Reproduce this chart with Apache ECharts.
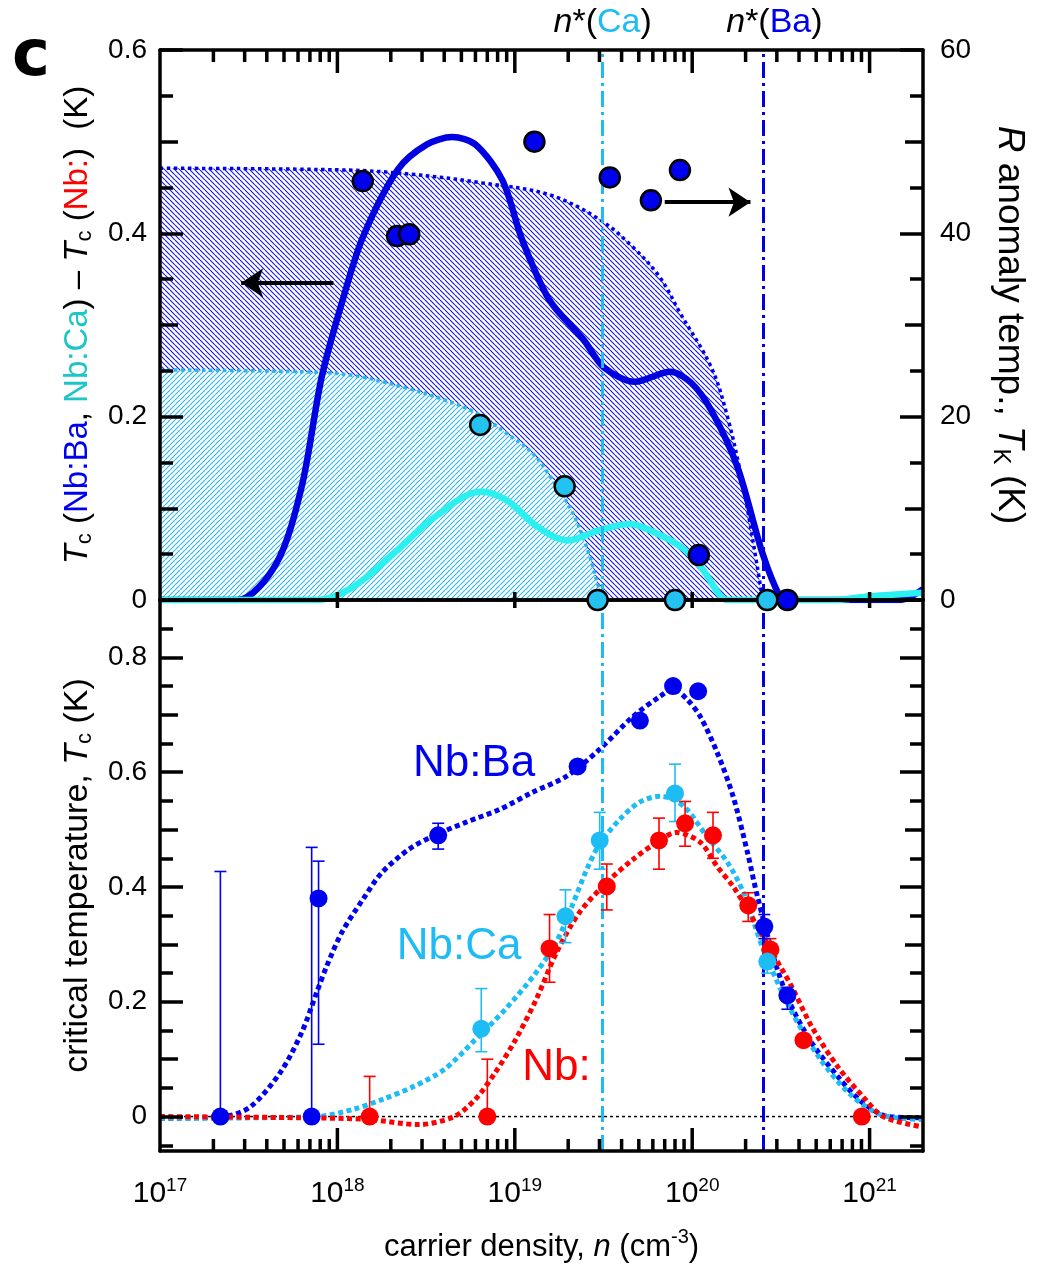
<!DOCTYPE html>
<html><head><meta charset="utf-8">
<script src="https://cdn.jsdelivr.net/npm/echarts@6/dist/echarts.min.js"></script>
<style>html,body{margin:0;padding:0;background:#fff;}#c{width:1044px;height:1264px;}</style>
</head><body><div id="c"></div>
<script>
// ---------------- data ----------------
const X_MIN = 1e17, X_MAX = 2e21;
const N_STAR_CA = 3.13e19, N_STAR_BA = 2.52e20;
const xMajorTicks = [1e18, 1e19, 1e20, 1e21];
const yBotLabelTicks = [0, 0.2, 0.4, 0.6, 0.8];
const yBotMidTicks = [0.1, 0.3, 0.5, 0.7];
const yBotMinorTicks = [-0.05, 0.05, 0.15, 0.25, 0.35, 0.45, 0.55, 0.65, 0.75, 0.85];

// top panel: R anomaly temperature T_K (K) (right axis)
const tkBa = [[1.39e18,45.7],[2.17e18,39.7],[2.54e18,39.9],[1.29e19,50.0],[3.43e19,46.1],[5.85e19,43.6],[8.53e19,46.9],[1.09e20,4.9],[3.44e20,0]];
const tkCa = [[6.38e18,19.1],[1.91e19,12.4],[2.93e19,0],[8.0e19,0],[2.65e20,0]];
// hatched envelopes (right-axis units)
const envBa = [[1e17,47.1],[1.16e18,46.9],[2.77e18,46.4],[6.56e18,45.5],[1.57e19,44.2],[3.01e19,41.5],[4.63e19,38.5],[6.58e19,35.2],[8.55e19,31.3],[1.28e20,25.4],[1.58e20,20.0],[1.92e20,12.8],[2.33e20,3.6],[2.49e20,0]];
const envCa = [[1e17,25.1],[6.28e17,24.9],[1.22e18,24.5],[2.37e18,23.2],[4.05e18,21.8],[6.06e18,20.4],[8.96e18,18.2],[1.26e19,16.0],[1.63e19,13.1],[2.12e19,9.5],[2.61e19,5.1],[2.97e19,1.4],[3.17e19,0]];
// Tc difference curves (left axis, K)
const dTcBa = [[1e17,0],[2.73e17,0],[4.53e17,0.040],[6.28e17,0.123],[8.15e17,0.243],[1.07e18,0.327],[1.4e18,0.397],[2.2e18,0.470],[3.2e18,0.497],[4.44e18,0.505],[6.0e18,0.497],[8.51e18,0.458],[1.10e19,0.393],[1.57e19,0.327],[2.44e19,0.284],[3.17e19,0.254],[4.75e19,0.238],[7.5e19,0.249],[9.86e19,0.237],[1.28e20,0.207],[1.80e20,0.145],[2.49e20,0.051],[3.14e20,0.003],[3.5e20,0],[1.5e21,0],[2e21,0.012]];
const dTcCa = [[1e17,0],[7.6e17,0],[1.22e18,0.014],[2.08e18,0.051],[3.56e18,0.091],[6.47e18,0.118],[8.96e18,0.109],[1.34e19,0.080],[1.99e19,0.065],[2.97e19,0.076],[4.46e19,0.083],[5.78e19,0.076],[8.65e19,0.058],[1.12e20,0.036],[1.46e20,0.003],[1.6e20,0],[6.3e20,0],[1.0e21,0.004],[2e21,0.008]];

// bottom panel: critical temperature Tc (K)
const tcBa = [[2.19e17,0],[7.16e17,0],[7.83e17,0.380],[3.70e18,0.490],[2.26e19,0.610],[5.07e19,0.690],[7.80e19,0.750],[1.08e20,0.741],[2.55e20,0.331],[3.44e20,0.211]];
const tcCa = [[6.47e18,0.153],[1.93e19,0.349],[3.01e19,0.481],[8.0e19,0.563],[2.65e20,0.270]];
const tcNb = [[1.52e18,0],[7.0e18,0],[1.57e19,0.293],[3.30e19,0.401],[6.5e19,0.481],[9.12e19,0.511],[1.31e20,0.490],[2.07e20,0.368],[2.76e20,0.291],[4.24e20,0.133],[9.04e20,0]];
// error bars [n, low, high]
const errBa = [[2.19e17,0,0.427],[7.16e17,0,0.469],[7.83e17,0.126,0.445],[3.70e18,0.466,0.511],[2.55e20,0.31,0.352],[3.44e20,0.187,0.225]];
const errCa = [[6.47e18,0.113,0.223],[1.93e19,0.303,0.395],[3.01e19,0.431,0.53],[8.0e19,0.514,0.614],[2.65e20,0.25,0.29]];
const errNb = [[1.52e18,0,0.07],[7.0e18,0,0.10],[1.57e19,0.234,0.352],[3.30e19,0.36,0.44],[6.5e19,0.431,0.52],[9.12e19,0.471,0.549],[1.31e20,0.45,0.53],[2.07e20,0.34,0.39],[2.76e20,0.27,0.31]];
// guide curves
const fitBa = [[1e17,-0.003],[2.30e17,0],[3.23e17,0.017],[4.77e17,0.077],[6.28e17,0.146],[7.64e17,0.216],[8.7e17,0.262],[1.06e18,0.321],[1.39e18,0.378],[1.78e18,0.425],[2.54e18,0.466],[3.42e18,0.488],[5.33e18,0.513],[8.19e18,0.535],[1.26e19,0.565],[1.96e19,0.593],[3.01e19,0.640],[4.63e19,0.697],[6.58e19,0.732],[7.80e19,0.745],[9.35e19,0.727],[1.11e20,0.697],[1.38e20,0.635],[1.70e20,0.558],[2.05e20,0.460],[2.33e20,0.384],[2.98e20,0.262],[3.63e20,0.192],[4.71e20,0.129],[6.61e20,0.070],[9.15e20,0.024],[1.28e21,0],[1.9e21,-0.002]];
const fitCa = [[1e17,-0.003],[7.64e17,0],[1.21e18,0.012],[1.80e18,0.030],[2.67e18,0.052],[4.0e18,0.082],[5.99e18,0.134],[8.85e18,0.187],[1.32e19,0.251],[1.72e19,0.305],[2.09e19,0.365],[2.54e19,0.43],[3.01e19,0.475],[3.91e19,0.518],[5.07e19,0.548],[6.58e19,0.558],[7.80e19,0.553],[9.35e19,0.535],[1.21e20,0.488],[1.58e20,0.443],[1.94e20,0.391],[2.52e20,0.291],[3.58e20,0.187],[5.3e20,0.099],[7.83e20,0.038],[1.16e21,0.003],[1.95e21,-0.005]];
const fitNb = [[1e17,0],[6.04e17,-0.002],[1.49e18,-0.005],[2.88e18,-0.014],[4.55e18,0],[5.99e18,0.030],[7.77e18,0.077],[1.01e19,0.134],[1.32e19,0.204],[1.72e19,0.286],[2.32e19,0.356],[3.30e19,0.408],[4.63e19,0.448],[6.33e19,0.478],[8.11e19,0.495],[1.11e20,0.478],[1.38e20,0.436],[1.70e20,0.401],[2.05e20,0.361],[2.76e20,0.291],[3.63e20,0.227],[4.71e20,0.157],[6.61e20,0.087],[9.15e20,0.035],[1.19e21,0],[1.9e21,-0.017]];
const zeroLine = [[X_MIN,0],[X_MAX,0]];
// annotation anchors (data space)
const arrowLeft = [[9.5e17,0.346],[2.87e17,0.346]];
const arrowRight = [[7.0e19,43.4],[2.13e20,43.4]];
const labelBa = [5.9e18,0.614], labelCa = [4.85e18,0.296], labelNb = [1.72e19,0.0855];

// ---------------- styles ----------------
const FONT = 'Liberation Sans';
const BA = '#0000f0', BA_LINE = '#0000e0', CA = '#1ebcf5', CA_TOP = '#2af0f0', CA_DOT = '#24c2f0', CA_TITLE = '#1cc6c6', NB = '#ff0000';
const AXL = {color:'#000', width:3.5};

function hatch(color, dir, s, w, bg){
  const c = document.createElement('canvas'); c.width = s; c.height = s;
  const g = c.getContext('2d');
  if (bg){ g.fillStyle = bg; g.fillRect(0,0,s,s); }
  g.strokeStyle = color; g.lineWidth = w; g.beginPath();
  for (const x0 of [-s,0,s]){
    if (dir === '\\'){ g.moveTo(x0,0); g.lineTo(x0+s,s); }
    else { g.moveTo(x0,s); g.lineTo(x0+s,0); }
  }
  g.stroke(); return c;
}
const patBa = hatch('#1414e8','\\',5,1.1,null);
const patCa = hatch('#2ab6f0','/',5,1.1,'#ffffff');

const xTicks = [];
xMajorTicks.forEach(v => xTicks.push([v,1]));
for (let e=17;e<=21;e++) for (let k=2;k<=9;k++){ const v=k*Math.pow(10,e); if (v < X_MAX*0.999) xTicks.push([v,0]); }

function xAx(grid,pos,extra){
  return Object.assign({gridIndex:grid,type:'log',logBase:10,min:X_MIN,max:X_MAX,position:pos,
    axisLine:{show:true,onZero:false,lineStyle:AXL},axisTick:{show:false},axisLabel:{show:false},
    splitLine:{show:false},minorTick:{show:false},minorSplitLine:{show:false},z:6},extra||{});
}
function yAx(grid,pos,min,max,extra){
  return Object.assign({gridIndex:grid,type:'value',position:pos,min:min,max:max,
    axisLine:{show:false,onZero:false},axisTick:{show:false},axisLabel:{show:false},splitLine:{show:false},z:6},extra||{});
}
const tick = (len, cv) => { const t = {show:true,inside:true,length:len,lineStyle:{color:'#000',width:3.5}}; if (cv) t.customValues = cv; return t; };
const lab = (extra) => Object.assign({show:true,fontSize:28,fontFamily:FONT,color:'#000',margin:13},extra||{});
function mkRich(fs){
  return {
    a:{fontSize:fs,fontFamily:FONT,color:'#000'},
    i:{fontSize:fs,fontFamily:FONT,color:'#000',fontStyle:'italic'},
    sub:{fontSize:Math.round(fs*0.66),fontFamily:FONT,color:'#000',padding:[Math.round(fs*0.42),0,0,0]},
    ba:{fontSize:fs,fontFamily:FONT,color:BA},
    ca:{fontSize:fs,fontFamily:FONT,color:CA_TITLE},
    nb:{fontSize:fs,fontFamily:FONT,color:NB}
  };
}

function errRender(color){
  return function(params, api){
    const x=api.value(0), lo=api.value(1), hi=api.value(2);
    const pt=api.coord([x,hi]), pb=api.coord([x,lo]);
    const w=6, st={stroke:color,lineWidth:1.6};
    const ch=[{type:'line',shape:{x1:pt[0],y1:pt[1],x2:pb[0],y2:pb[1]},style:st},
              {type:'line',shape:{x1:pt[0]-w,y1:pt[1],x2:pt[0]+w,y2:pt[1]},style:st}];
    if (lo>0) ch.push({type:'line',shape:{x1:pb[0]-w,y1:pb[1],x2:pb[0]+w,y2:pb[1]},style:st});
    return {type:'group',children:ch};
  };
}
function tickRender(mode){
  return function(params, api){
    const v=api.value(0), major=api.value(1)===1;
    const x=api.coord([v,0])[0], cs=params.coordSys;
    const st={stroke:'#000',lineWidth:3.5}, L=major?23:12, ch=[];
    if (mode==='top'){
      ch.push({type:'line',shape:{x1:x,y1:cs.y,x2:x,y2:cs.y+L},style:st});
      if (major) ch.push({type:'line',shape:{x1:x,y1:cs.y+cs.height-8,x2:x,y2:cs.y+cs.height+8},style:st});
    } else {
      ch.push({type:'line',shape:{x1:x,y1:cs.y+cs.height,x2:x,y2:cs.y+cs.height-L},style:st});
    }
    return {type:'group',children:ch};
  };
}
const dashDot = [16,5,3,5];
const nStarRich = {
  i:{fontSize:34,fontFamily:FONT,color:'#000',fontStyle:'italic'},
  k:{fontSize:34,fontFamily:FONT,color:'#000'},
  ca:{fontSize:34,fontFamily:FONT,color:CA},
  ba:{fontSize:34,fontFamily:FONT,color:BA}
};
const arrowML = (pts) => ({silent:true,symbol:['none','arrow'],symbolSize:22,symbolOffset:0,
  lineStyle:{color:'#000',width:4,type:'solid'},label:{show:false},
  data:[[{coord:pts[0],symbol:'none'},{coord:pts[1],symbol:'arrow',symbolSize:22}]]});

const option = {
  animation:false,
  backgroundColor:'#fff',
  grid:[{left:160,top:50,width:763,height:550},{left:160,top:600,width:763,height:551}],
  xAxis:[
    xAx(0,'bottom'), xAx(0,'top'),
    xAx(1,'bottom',{
      axisLabel:{show:true,margin:25,showMaxLabel:false,
        formatter:v=>{const e=Math.log10(v); if (Math.abs(e-Math.round(e))>1e-6) return ''; return '{b|10}{s|'+Math.round(e)+'}';},
        rich:{b:{fontSize:30,fontFamily:FONT,color:'#000'},s:{fontSize:19,fontFamily:FONT,color:'#000',padding:[0,0,16,0]}}},
      name:'{a|carrier density, }{i|n}{a| (cm}{s|-3}{a|)}',nameLocation:'middle',nameGap:76,
      nameTextStyle:{fontSize:31,fontFamily:FONT,color:'#000',rich:{
        a:{fontSize:31,fontFamily:FONT,color:'#000'},i:{fontSize:31,fontFamily:FONT,color:'#000',fontStyle:'italic'},
        s:{fontSize:20,fontFamily:FONT,color:'#000',padding:[0,0,20,0]}}}
    }),
    xAx(1,'top')
  ],
  yAxis:[
    yAx(0,'left',0,0.6,{interval:0.2,axisLine:{show:true,onZero:false,lineStyle:AXL},axisTick:tick(23),axisLabel:lab(),
      name:'{i|T}{sub|c}{a| (}{ba|Nb:Ba}{a|, }{ca|Nb:Ca}{a|) – }{i|T}{sub|c}{a| (}{nb|Nb:}{a|)  (K)}',
      nameLocation:'middle',nameRotate:90,nameGap:64,nameTextStyle:{fontSize:33,fontFamily:FONT,color:'#000',rich:mkRich(33)}}),
    yAx(0,'left',0,0.6,{interval:0.1,axisTick:tick(18),minorTick:{show:true,splitNumber:2,length:13,lineStyle:{color:'#000',width:3.5}}}),
    yAx(0,'right',0,60,{interval:20,axisLine:{show:true,onZero:false,lineStyle:AXL},axisTick:tick(23),axisLabel:lab({margin:17}),
      name:'{i|R}{a| anomaly temp., }{i|T}{sub|K}{a| (K)}',nameLocation:'middle',nameRotate:-90,nameGap:66,
      nameTextStyle:{fontSize:37,fontFamily:FONT,color:'#000',rich:mkRich(37)}}),
    yAx(0,'right',0,60,{interval:10,axisTick:tick(18),minorTick:{show:true,splitNumber:2,length:13,lineStyle:{color:'#000',width:3.5}}}),
    yAx(1,'left',-0.06,0.9,{axisLine:{show:true,onZero:false,lineStyle:AXL},axisTick:tick(23,yBotLabelTicks),
      axisLabel:lab({customValues:yBotLabelTicks,formatter:v=>String(+(+v).toFixed(1))}),
      name:'{a|critical temperature, }{i|T}{sub|c}{a| (K)}',nameLocation:'middle',nameRotate:90,nameGap:64,
      nameTextStyle:{fontSize:34,fontFamily:FONT,color:'#000',rich:mkRich(34)}}),
    yAx(1,'left',-0.06,0.9,{axisTick:tick(18,yBotMidTicks)}),
    yAx(1,'left',-0.06,0.9,{axisTick:tick(13,yBotMinorTicks)}),
    yAx(1,'right',-0.06,0.9,{axisLine:{show:true,onZero:false,lineStyle:AXL},axisTick:tick(23,yBotLabelTicks)}),
    yAx(1,'right',-0.06,0.9,{axisTick:tick(18,yBotMidTicks)}),
    yAx(1,'right',-0.06,0.9,{axisTick:tick(13,yBotMinorTicks)})
  ],
  graphic:[{type:'text',left:12,top:26,z:100,style:{text:'c',font:'bold 64px "DejaVu Sans"',fill:'#000'}}],
  series:[
    // ----- top panel -----
    {type:'line',xAxisIndex:0,yAxisIndex:2,data:envBa,smooth:0.35,symbol:'none',silent:true,z:1,
     lineStyle:{color:BA,width:3.5,type:[3.5,3.5]},areaStyle:{color:{image:patBa,repeat:'repeat'},opacity:1},
     markLine:{silent:true,symbol:['none','none'],data:[
       {xAxis:N_STAR_CA,lineStyle:{color:CA,width:3,type:dashDot},label:{show:true,position:'end',distance:10,formatter:'{i|n}{k|*(}{ca|Ca}{k|)}',rich:nStarRich}},
       {xAxis:N_STAR_BA,lineStyle:{color:BA_LINE,width:3,type:dashDot},label:{show:true,position:'end',distance:10,offset:[11,0],formatter:'{i|n}{k|*(}{ba|Ba}{k|)}',rich:nStarRich}}
     ]}},
    {type:'line',xAxisIndex:0,yAxisIndex:2,data:envCa,smooth:0.35,symbol:'none',silent:true,z:1,
     lineStyle:{color:'#2ab4ee',width:3.5,type:[3.5,3.5]},areaStyle:{color:{image:patCa,repeat:'repeat'},opacity:1}},
    {type:'line',xAxisIndex:0,yAxisIndex:0,data:dTcBa,smooth:0.3,symbol:'none',silent:true,z:3,
     lineStyle:{color:BA_LINE,width:6.5},markLine:arrowML(arrowLeft)},
    {type:'line',xAxisIndex:0,yAxisIndex:0,data:dTcCa,smooth:0.35,symbol:'none',silent:true,z:3,
     lineStyle:{color:CA_TOP,width:6.5}},
    {type:'scatter',xAxisIndex:0,yAxisIndex:2,data:tkBa,symbolSize:20,silent:true,z:10,
     itemStyle:{color:BA,borderColor:'#000',borderWidth:2.5,opacity:1},markLine:arrowML(arrowRight)},
    {type:'scatter',xAxisIndex:0,yAxisIndex:2,data:tkCa,symbolSize:20,silent:true,z:10,
     itemStyle:{color:CA_DOT,borderColor:'#000',borderWidth:2.5,opacity:1}},
    {type:'custom',xAxisIndex:0,yAxisIndex:0,data:xTicks,renderItem:tickRender('top'),silent:true,z:7},
    // ----- bottom panel -----
    {type:'line',xAxisIndex:2,yAxisIndex:4,data:zeroLine,symbol:'none',silent:true,z:1,
     lineStyle:{color:'#000',width:1.5,type:[3,3]},
     markLine:{silent:true,symbol:['none','none'],label:{show:false},data:[
       {xAxis:N_STAR_CA,lineStyle:{color:CA,width:3,type:dashDot}},
       {xAxis:N_STAR_BA,lineStyle:{color:BA_LINE,width:3,type:dashDot}}]}},
    {type:'line',xAxisIndex:2,yAxisIndex:4,data:fitBa,smooth:0.3,symbol:'none',silent:true,z:2,
     lineStyle:{color:BA,width:5,type:[5,3.5]},
     markPoint:{silent:true,symbolSize:0,label:{show:true,position:'inside',formatter:'{b}',fontSize:44,fontFamily:FONT,color:BA},data:[{name:'Nb:Ba',coord:labelBa}]}},
    {type:'line',xAxisIndex:2,yAxisIndex:4,data:fitCa,smooth:0.3,symbol:'none',silent:true,z:2,
     lineStyle:{color:CA,width:5,type:[5,3.5]},
     markPoint:{silent:true,symbolSize:0,label:{show:true,position:'inside',formatter:'{b}',fontSize:44,fontFamily:FONT,color:CA},data:[{name:'Nb:Ca',coord:labelCa}]}},
    {type:'line',xAxisIndex:2,yAxisIndex:4,data:fitNb,smooth:0.3,symbol:'none',silent:true,z:2,
     lineStyle:{color:NB,width:5,type:[5,3.5]},
     markPoint:{silent:true,symbolSize:0,label:{show:true,position:'inside',formatter:'{b}',fontSize:44,fontFamily:FONT,color:NB},data:[{name:'Nb:',coord:labelNb}]}},
    {type:'custom',xAxisIndex:2,yAxisIndex:4,data:errNb,renderItem:errRender(NB),silent:true,z:8},
    {type:'custom',xAxisIndex:2,yAxisIndex:4,data:errCa,renderItem:errRender(CA),silent:true,z:8},
    {type:'custom',xAxisIndex:2,yAxisIndex:4,data:errBa,renderItem:errRender(BA),silent:true,z:8},
    {type:'scatter',xAxisIndex:2,yAxisIndex:4,data:tcNb,symbolSize:18,silent:true,z:10,itemStyle:{color:NB,opacity:1}},
    {type:'scatter',xAxisIndex:2,yAxisIndex:4,data:tcCa,symbolSize:18,silent:true,z:10,itemStyle:{color:CA,opacity:1}},
    {type:'scatter',xAxisIndex:2,yAxisIndex:4,data:tcBa,symbolSize:18,silent:true,z:10,itemStyle:{color:BA,opacity:1}},
    {type:'custom',xAxisIndex:2,yAxisIndex:4,data:xTicks,renderItem:tickRender('bottom'),silent:true,z:7}
  ]
};
const chart = echarts.init(document.getElementById('c'),null,{renderer:'canvas',width:1044,height:1264,devicePixelRatio:1});
chart.setOption(option);
</script></body></html>
